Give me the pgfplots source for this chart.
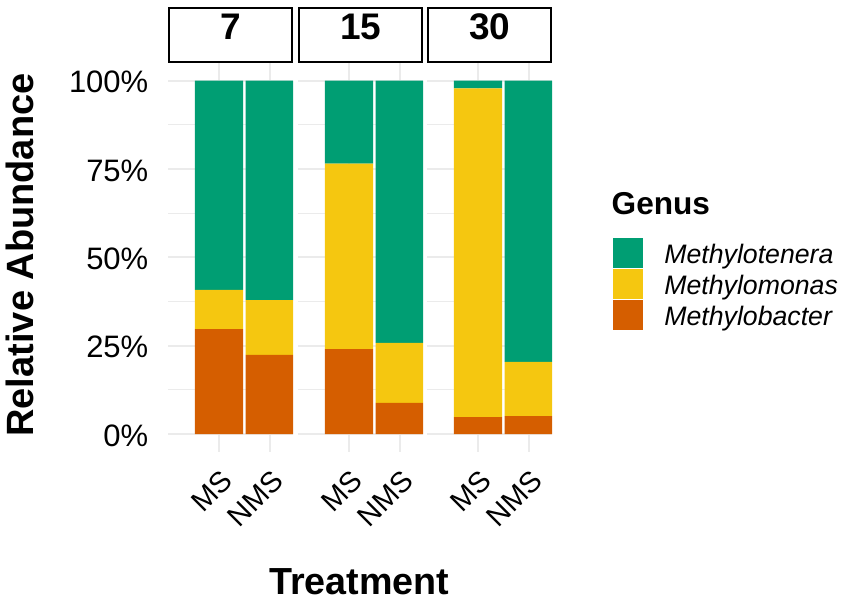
\documentclass[border=0pt]{standalone}
\usepackage{fontspec}
\setmainfont{Liberation Sans}
\usepackage{graphicx}
\usepackage{pgfplots}
\usepackage{pgfplotstable}
\pgfplotsset{compat=1.18}
\definecolor{cGreen}{HTML}{009E73}
\definecolor{cYellow}{HTML}{F5C710}
\definecolor{cOrange}{HTML}{D55E00}
\definecolor{cGrid}{HTML}{EBEBEB}

\pgfplotstableread{
x bacter monas tenera
1 29.7 11.1 59.2
2 22.4 15.5 62.1
}\tseven
\pgfplotstableread{
x bacter monas tenera
1 24.0 52.5 23.5
2 8.8 17.0 74.2
}\tfifteen
\pgfplotstableread{
x bacter monas tenera
1 4.8 93.0 2.2
2 5.1 15.3 79.6
}\tthirty

\pgfplotsset{panel/.style={
  scale only axis, width=124.7pt, height=388.7pt, anchor=south west,
  xmin=0, xmax=2.46, ymin=-5, ymax=105,
  ybar stacked, bar width=0.95,
  axis line style={draw=none}, major tick length=0pt, minor tick length=0pt,
  xtick={1,2}, xticklabels={\rotatebox{45}{MS},\rotatebox{45}{NMS}},
  ytick={0,25,50,75,100}, minor ytick={12.5,37.5,62.5,87.5},
  xmajorgrids, ymajorgrids, yminorgrids,
  major grid style={cGrid, line width=2pt},
  minor grid style={cGrid, line width=1.2pt},
  xticklabel style={font=\fontsize{29}{34}\selectfont, inner sep=0pt,
     anchor=north east, xshift=15.5pt, yshift=-17pt},
  yticklabel style={font=\fontsize{31}{37}\selectfont, inner sep=0pt,
     anchor=east, xshift=-19.8pt, yshift=-1.5pt},
}}

\begin{document}
\begin{tikzpicture}
\useasboundingbox (0,0) rectangle (847pt,602pt);

\begin{axis}[panel, at={(168.3pt,150.3pt)},
  yticklabels={0\%,25\%,50\%,75\%,100\%}]
\addplot[fill=cOrange, draw=none] table[x=x,y=bacter]{\tseven};
\addplot[fill=cYellow, draw=none] table[x=x,y=monas]{\tseven};
\addplot[fill=cGreen, draw=none] table[x=x,y=tenera]{\tseven};
\end{axis}

\begin{axis}[panel, at={(298.3pt,150.3pt)}, yticklabels={}]
\addplot[fill=cOrange, draw=none] table[x=x,y=bacter]{\tfifteen};
\addplot[fill=cYellow, draw=none] table[x=x,y=monas]{\tfifteen};
\addplot[fill=cGreen, draw=none] table[x=x,y=tenera]{\tfifteen};
\end{axis}

\begin{axis}[panel, at={(427.3pt,150.3pt)}, yticklabels={},
  reverse legend,
  legend image code/.code={\fill[#1] (0pt,-4.5pt) rectangle (30pt,25.5pt);},
  legend style={draw=none, fill=none, inner sep=0pt, outer sep=0pt,
    at={(1.4916,0.5506)}, anchor=north west,
    row sep=0pt, column sep=21pt,
    font=\fontsize{26.7}{32}\selectfont\itshape,
    nodes={inner sep=0pt, text height=25.5pt, text depth=5.5pt},
    cells={anchor=base west}},
  ]
\addplot[fill=cOrange, draw=none] table[x=x,y=bacter]{\tthirty};
\addlegendentry{Methylobacter}
\addplot[fill=cYellow, draw=none] table[x=x,y=monas]{\tthirty};
\addlegendentry{Methylomonas}
\addplot[fill=cGreen, draw=none] table[x=x,y=tenera]{\tthirty};
\addlegendentry{Methylotenera}
\end{axis}

% facet strips
\draw[line width=2pt, fill=white] (169.3pt,594pt) rectangle (292pt,540.3pt);
\draw[line width=2pt, fill=white] (299.3pt,594pt) rectangle (422pt,540.3pt);
\draw[line width=2pt, fill=white] (428.3pt,594pt) rectangle (551pt,540.3pt);
\node[anchor=base, inner sep=0pt, font=\bfseries\fontsize{37}{44}\selectfont] at (230.6pt,562pt) {7};
\node[anchor=base, inner sep=0pt, font=\bfseries\fontsize{37}{44}\selectfont] at (360.6pt,562pt) {15};
\node[anchor=base, inner sep=0pt, font=\bfseries\fontsize{37}{44}\selectfont] at (489.6pt,562pt) {30};

% axis titles
\node[rotate=90, anchor=base, inner sep=0pt, font=\bfseries\fontsize{38}{45}\selectfont] at (33pt,347pt) {Relative Abundance};
\node[anchor=base, inner sep=0pt, font=\bfseries\fontsize{37.7}{45}\selectfont] at (359.2pt,7.7pt) {Treatment};
\node[anchor=base west, inner sep=0pt, font=\bfseries\fontsize{31.6}{38}\selectfont] at (611.5pt,387.7pt) {Genus};
\end{tikzpicture}
\end{document}
